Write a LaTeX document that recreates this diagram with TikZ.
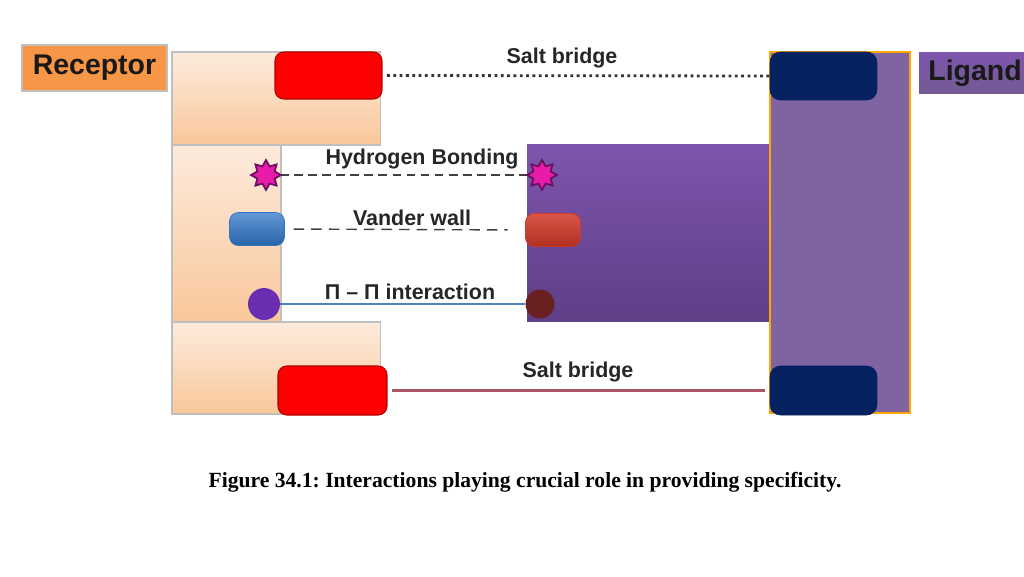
\documentclass[tikz,border=0pt]{standalone}
\usepackage{fontspec}
\setmainfont{Liberation Serif}
\setsansfont{Liberation Sans}
\usetikzlibrary{shapes.geometric}
\frenchspacing
\definecolor{peachA}{HTML}{FDEBDD}
\definecolor{peachB}{HTML}{F9C79A}
\definecolor{recOr}{HTML}{F79646}
\definecolor{ligP}{HTML}{8064A2}
\definecolor{ligPd}{HTML}{5E3F86}
\definecolor{ligPl}{HTML}{7E55AE}
\definecolor{navy}{HTML}{06215F}
\definecolor{saltred}{HTML}{FF0000}
\definecolor{starM}{HTML}{E81CA8}
\definecolor{starE}{HTML}{6A1060}
\definecolor{vdwB}{HTML}{2E75C6}
\definecolor{vdwR}{HTML}{D03828}
\definecolor{piP}{HTML}{6A2FB0}
\definecolor{piR}{HTML}{6A2020}
\definecolor{sbline}{HTML}{A85462}
\definecolor{piline}{HTML}{4F81BD}
\tikzset{
  box/.style={rectangle, inner sep=0pt, outer sep=0pt, anchor=north west},
  recblock/.style={box, draw=black!25, line width=0.6pt, top color=peachA, bottom color=peachB},
  redbox/.style={box, fill=saltred, draw=red!70!black, line width=0.6pt, rounded corners=5pt},
  navybox/.style={box, fill=navy, draw=navy, rounded corners=6pt},
  lbl/.style={font=\sffamily\bfseries\fontsize{12.2pt}{14pt}\selectfont, text=black!85, inner sep=0pt},
  bigl/.style={font=\sffamily\bfseries\fontsize{16.2pt}{18pt}\selectfont, text=black!90, inner sep=0pt},
  hstar/.style={star, star points=8, star point ratio=1.6, minimum size=17pt, inner sep=0pt, fill=starM, draw=starE, line width=1pt},
  caps/.style={rectangle, rounded corners=5pt, inner sep=0pt, minimum width=1.1cm, minimum height=0.66cm},
  ball/.style={circle, inner sep=0pt},
}
\begin{document}
\begin{tikzpicture}[x=0.02cm, y=-0.02cm]
\useasboundingbox (0,0) rectangle (1024,576);
% receptor label
\node[box, draw=black!25, line width=0.8pt, fill=recOr, minimum width=2.9cm, minimum height=0.92cm] (reclbl) at (22,45) {};
\node[bigl] at (reclbl.center) {Receptor};
% receptor body
\node[recblock, minimum width=2.18cm, minimum height=3.6cm] (recmid) at (172,143) {};
\node[recblock, minimum width=4.18cm, minimum height=1.86cm] (rectop) at (172,52) {};
\node[recblock, minimum width=4.18cm, minimum height=1.84cm] (recbot) at (172,322) {};
% ligand
\node[box, top color=ligPl, bottom color=ligPd, minimum width=4.86cm, minimum height=3.56cm] (ligin) at (527,144) {};
\node[box, fill=ligP, draw=orange!70!yellow, line width=0.8pt, minimum width=2.8cm, minimum height=7.22cm] (ligcol) at (770,52) {};
\node[box, top color=ligPl, bottom color=ligP!90!black, minimum width=2.2cm, minimum height=0.84cm] (liglbl) at (919,52) {};
\node[bigl, anchor=west] at (928,73) {Ligand};
% salt bridge boxes
\node[redbox, minimum width=2.14cm, minimum height=0.94cm] (redT) at (275,52) {};
\node[redbox, minimum width=2.18cm, minimum height=0.98cm] (redB) at (278,366) {};
\node[navybox, minimum width=2.14cm, minimum height=0.96cm] (navT) at (770,52) {};
\node[navybox, minimum width=2.14cm, minimum height=0.98cm] (navB) at (770,366) {};
% connectors drawn first
\coordinate (hLc) at (266,175);
\coordinate (hRc) at (542,175);
\draw[line width=0.8pt, black!75, dash pattern=on 5pt off 3pt] (hLc) -- (hRc);
% H bond stars
\node[hstar] (hL) at (hLc) {};
\node[hstar] (hR) at (hRc) {};
% vdw capsules
\node[caps, top color=vdwB!75!white, bottom color=vdwB!85!black, draw=vdwB] (vL) at (257,229) {};
\node[caps, top color=vdwR!85!white, bottom color=vdwR!85!black, draw=vdwR] (vR) at (553,230) {};
% pi balls
\node[ball, fill=piP, minimum size=0.64cm] (pL) at (264,304) {};
\node[ball, fill=piR, minimum size=0.58cm] (pR) at (540,304) {};
% connectors
\draw[line width=1.6pt, dotted, black!80] (redT.east) ++(5,0) coordinate (sT) (sT) -- (navT.west);
\draw[line width=0.8pt, black!75, dash pattern=on 6pt off 4pt, shorten <=5pt, shorten >=10pt] (vL.east) -- (vR.west);
\draw[line width=1.6pt, piline] (pL.east) -- (pR.west);
\draw[line width=1.6pt, sbline, shorten <=3pt, shorten >=3pt] (redB.east) -- (navB.west);
% labels
\node[lbl] at (562,58) {Salt bridge};
\node[lbl] at (422,159) {Hydrogen Bonding};
\node[lbl] at (412,218) {Vander wall};
\node[lbl] at (410,292) {Π – Π interaction};
\node[lbl] at (578,372) {Salt bridge};
% caption
\node[font=\bfseries\fontsize{12.3pt}{14pt}\selectfont, inner sep=0pt] (cap) at (525,482) {Figure 34.1: Interactions playing crucial role in providing specificity.};
\end{tikzpicture}
\end{document}
